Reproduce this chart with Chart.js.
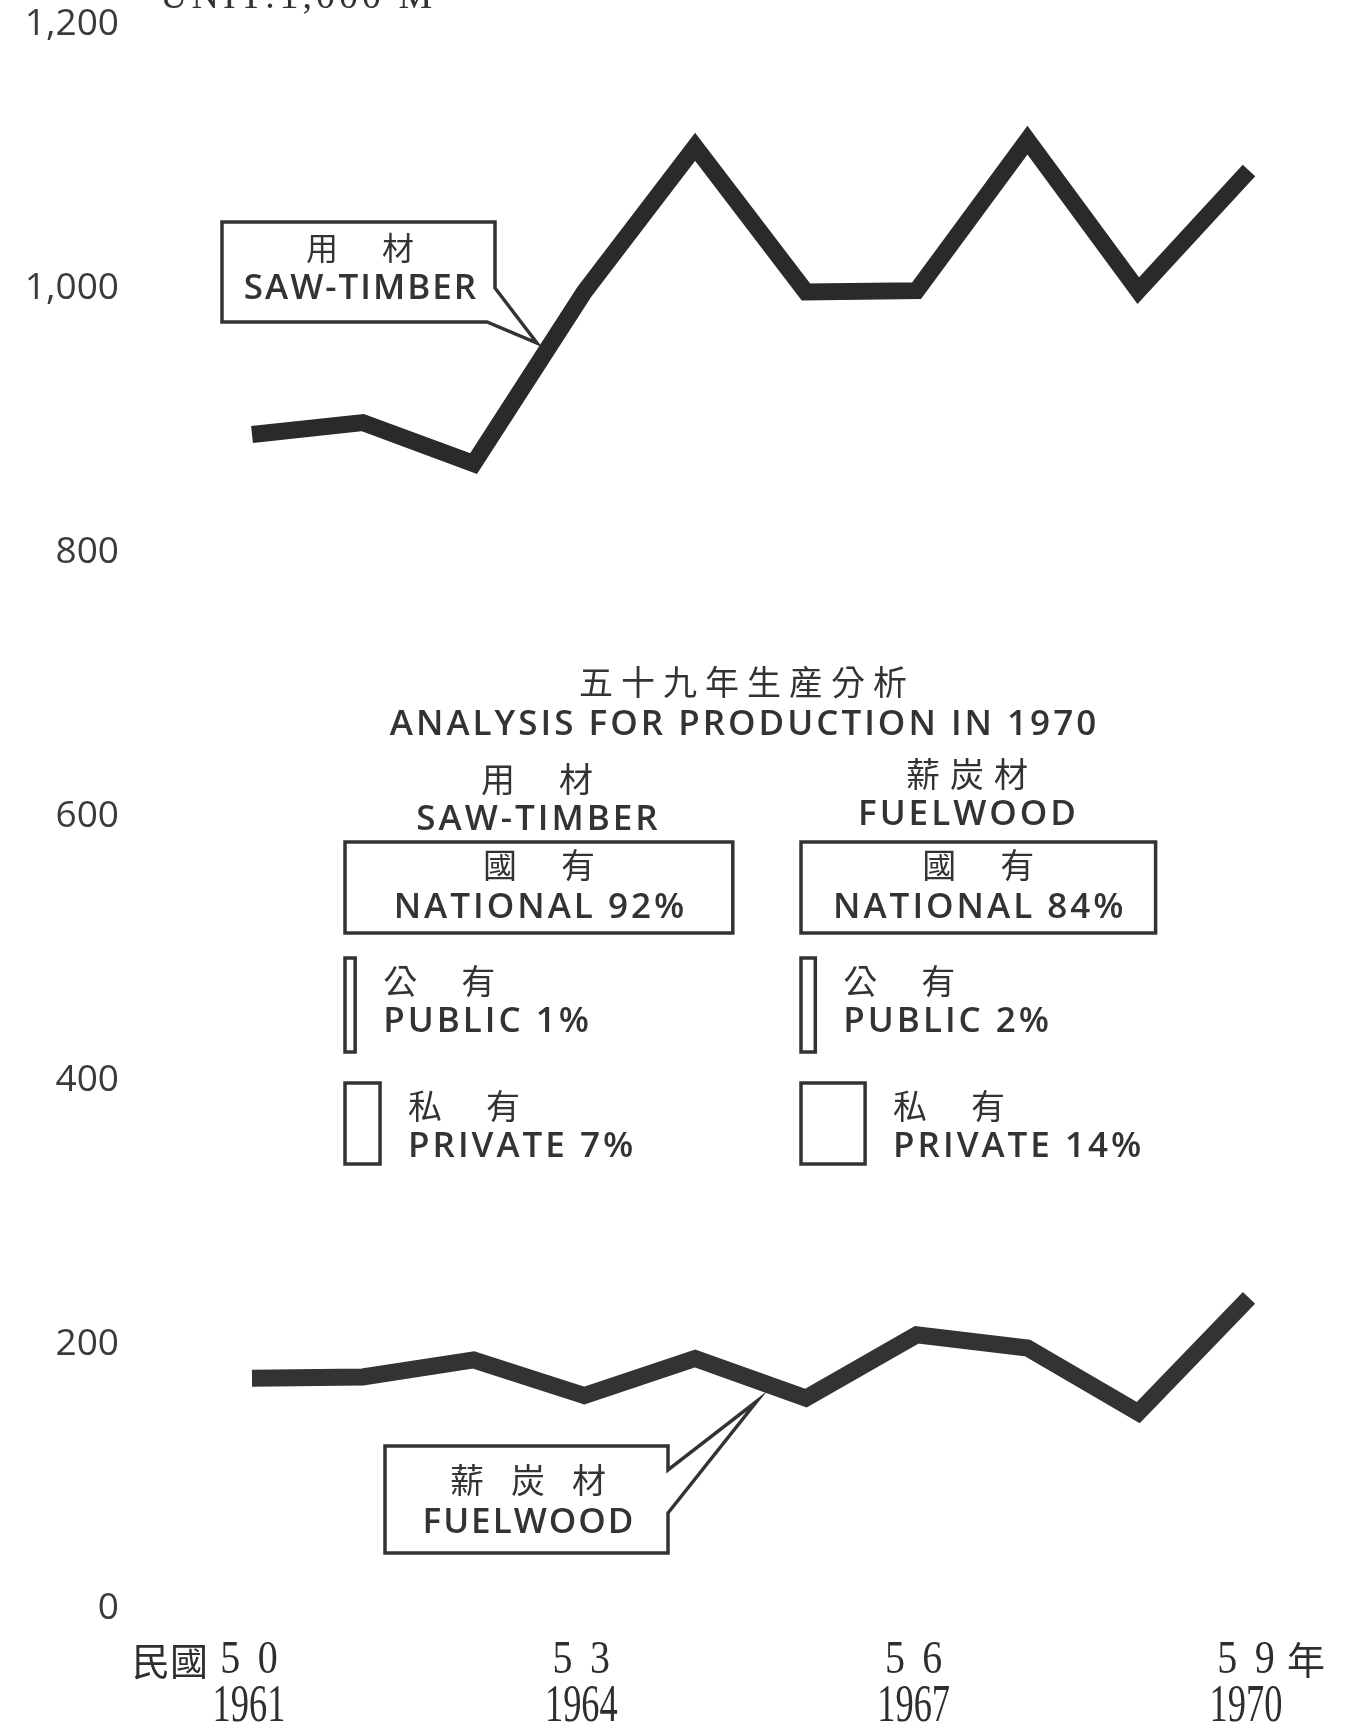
<!DOCTYPE html>
<html>
<head>
<meta charset="utf-8">
<script src="https://cdn.jsdelivr.net/npm/chart.js@4.4.1/dist/chart.umd.min.js"></script>
<style>
  html, body { margin: 0; padding: 0; background: #fff; }
  #wrap { width: 1355px; height: 1733px; }
</style>
</head>
<body>
<div id="wrap"><canvas id="chart" width="1355" height="1733"></canvas></div>
<script>
/* ---- data (unit: 1,000 m³) ---- */
const years = [1961, 1962, 1963, 1964, 1965, 1966, 1967, 1968, 1969, 1970];
const sawTimber = [889, 898, 867, 997, 1107, 997, 998, 1112, 998, 1089];
const fuelwood = [174, 175, 188, 161, 189, 159, 207, 197, 148, 235];
const yTicks = [0, 200, 400, 600, 800, 1000, 1200];
const labelYears = [1961, 1964, 1967, 1970];
const labelRoc = ['50', '53', '56', '59'];

// 1970 production analysis (share in %)
const ownerZh = ['國　有', '公　有', '私　有'];
const ownerEn = ['NATIONAL', 'PUBLIC', 'PRIVATE'];
const sawShares = [92, 1, 7];
const fuelShares = [84, 2, 14];

const INK = '#333';
const LINE = '#2a2a2a';
const SANS = '"Open Sans", "Noto Sans", sans-serif';
const CJK = '"Noto Sans CJK TC", sans-serif';
const SERIF = '"Liberation Serif", serif';

function text(ctx, str, x, y, font, opts = {}) {
  const sp = opts.spacing || 0;
  const sx = opts.scaleX || 1;
  ctx.save();
  ctx.font = font;
  ctx.fillStyle = opts.color || INK;
  ctx.textBaseline = opts.baseline || 'middle';
  ctx.textAlign = 'left';
  ctx.letterSpacing = '0px';
  const w = (ctx.measureText(str).width + sp * ([...str].length - 1)) * sx;
  ctx.letterSpacing = sp + 'px';
  let left = x;
  if ((opts.align || 'center') === 'center') left = x - w / 2;
  else if (opts.align === 'right') left = x - w;
  ctx.translate(left, y);
  ctx.scale(sx, 1);
  ctx.fillText(str, 0, 0);
  ctx.restore();
}

function outline(ctx, pts) {
  ctx.beginPath();
  pts.forEach(([px, py], i) => i ? ctx.lineTo(px, py) : ctx.moveTo(px, py));
  ctx.closePath();
  ctx.fillStyle = '#fff';
  ctx.fill();
  ctx.stroke();
}

// box width grows with the share
const shareWidth = s => 6 + 4.15 * s;

function drawShareColumn(ctx, left, shares, head) {
  const natW = shareWidth(shares[0]);
  const cx = left + natW / 2;
  text(ctx, head.zh, head.x, head.y, '34px ' + CJK, { spacing: head.sp });
  text(ctx, head.en, head.x, head.y + 41, '600 35px ' + SANS, { spacing: 3 });

  // national
  ctx.strokeRect(left, 842, natW, 91);
  text(ctx, ownerZh[0], cx, 865, '34px ' + CJK, { spacing: 5 });
  text(ctx, ownerEn[0] + ' ' + shares[0] + '%', cx, 908, '600 35px ' + SANS, { spacing: 3 });

  // public / private
  const rows = [{ top: 958, h: 94 }, { top: 1083, h: 81 }];
  rows.forEach((r, i) => {
    const w = shareWidth(shares[i + 1]);
    ctx.strokeRect(left, r.top, w, r.h);
    const tx = left + w + 28;
    text(ctx, ownerZh[i + 1], tx, r.top + 23, '34px ' + CJK, { spacing: 5, align: 'left' });
    text(ctx, ownerEn[i + 1] + ' ' + shares[i + 1] + '%', tx, r.top + 64, '600 35px ' + SANS, { spacing: 3, align: 'left' });
  });
}

const annotations = {
  id: 'annotations',
  afterDatasetsDraw(chart) {
    const ctx = chart.ctx;
    const xs = chart.scales.x;
    ctx.save();
    ctx.strokeStyle = '#333';
    ctx.lineWidth = 3.5;
    ctx.lineJoin = 'miter';

    // unit caption, mostly cut off by the page edge
    text(ctx, 'UNIT:1,000 M³', 160, 8, '38px ' + SERIF, { spacing: 4, align: 'left', baseline: 'alphabetic' });

    // saw-timber callout
    outline(ctx, [[222, 222], [495, 222], [495, 288], [537, 343], [487, 322], [222, 322]]);
    text(ctx, '用　材', 360, 248, '32px ' + CJK, { spacing: 6 });
    text(ctx, 'SAW-TIMBER', 360, 289, '600 35px ' + SANS, { spacing: 2 });

    // fuelwood callout
    outline(ctx, [[385, 1446], [668, 1446], [668, 1470], [757, 1401], [668, 1513], [668, 1553], [385, 1553]]);
    text(ctx, '薪炭材', 528, 1480, '34px ' + CJK, { spacing: 27 });
    text(ctx, 'FUELWOOD', 528, 1523, '600 35px ' + SANS, { spacing: 2 });

    // analysis for 1970
    text(ctx, '五十九年生産分析', 743, 682, '34px ' + CJK, { spacing: 8 });
    text(ctx, 'ANALYSIS FOR PRODUCTION IN 1970', 743, 725, '600 35px ' + SANS, { spacing: 3 });
    drawShareColumn(ctx, 345, sawShares, { zh: '用　材', en: 'SAW-TIMBER', x: 537, y: 779, sp: 5 });
    drawShareColumn(ctx, 801, fuelShares, { zh: '薪炭材', en: 'FUELWOOD', x: 967, y: 774, sp: 10 });

    // x labels: ROC year over western year
    labelYears.forEach((yr, i) => {
      const x = xs.getPixelForValue(yr);
      text(ctx, labelRoc[i], x - 3, 1661, '46px ' + SERIF, { scaleX: 0.87, spacing: 20, color: '#2e2e2e' });
      text(ctx, String(yr), x - 3, 1707, '52px ' + SERIF, { scaleX: 0.7, color: '#2e2e2e' });
    });
    const x0 = xs.getPixelForValue(labelYears[0]);
    const x1 = xs.getPixelForValue(labelYears[labelYears.length - 1]);
    text(ctx, '民國', x0 - 44, 1661, '38px ' + CJK, { align: 'right', color: '#2e2e2e' });
    text(ctx, '年', x1 + 38, 1660, '38px ' + CJK, { align: 'left', color: '#2e2e2e' });
    ctx.restore();
  }
};

const lineStyle = {
  borderWidth: 17,
  pointRadius: 0,
  tension: 0,
  borderJoinStyle: 'miter',
  borderCapStyle: 'butt',
  clip: false
};

new Chart(document.getElementById('chart'), {
  type: 'line',
  data: {
    datasets: [
      { label: 'SAW-TIMBER', data: years.map((x, i) => ({ x, y: sawTimber[i] })), borderColor: LINE, ...lineStyle },
      { label: 'FUELWOOD', data: years.map((x, i) => ({ x, y: fuelwood[i] })), borderColor: '#333', ...lineStyle }
    ]
  },
  options: {
    responsive: false,
    animation: false,
    devicePixelRatio: 1,
    layout: { padding: { left: 0, right: 106, top: 24, bottom: 125 } },
    scales: {
      x: {
        type: 'linear',
        min: years[0],
        max: years[years.length - 1],
        display: false
      },
      y: {
        min: 0,
        max: 1200,
        afterFit: s => { s.width = 252; s.paddingTop = 0; s.paddingBottom = 0; },
        afterBuildTicks: s => { s.ticks = yTicks.map(v => ({ value: v })); },
        border: { display: false },
        grid: { display: false, drawTicks: false },
        ticks: {
          padding: 133,
          color: '#3a3a3a',
          font: { size: 37, family: SANS },
          callback: v => v.toLocaleString('en-US')
        }
      }
    },
    plugins: {
      legend: { display: false },
      tooltip: { enabled: false }
    }
  },
  plugins: [annotations]
});
</script>
</body>
</html>
